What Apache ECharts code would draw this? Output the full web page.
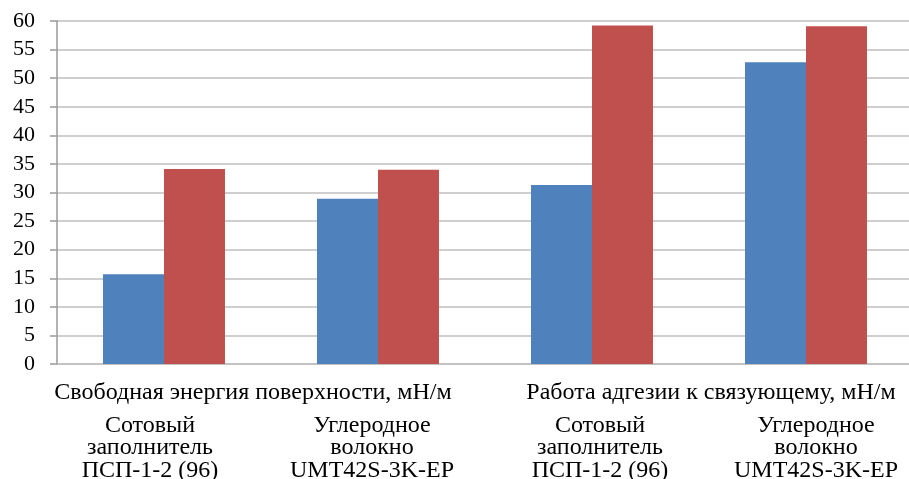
<!DOCTYPE html>
<html>
<head>
<meta charset="utf-8">
<script src="https://cdn.jsdelivr.net/npm/echarts@6/dist/echarts.min.js"></script>
<style>
  html, body { margin: 0; padding: 0; background: #fff; }
  #chart { width: 909px; height: 479px; }
</style>
</head>
<body>
<div id="chart"></div>
<script>
  // inner level categories (closest to bars)
  const categories = [
    'Сотовый\nзаполнитель\nПСП-1-2 (96)',
    'Углеродное\nволокно\nUMT42S-3K-EP',
    'Сотовый\nзаполнитель\nПСП-1-2 (96)',
    'Углеродное\nволокно\nUMT42S-3K-EP',
  ];
  // outer level groups
  const groups = ['Свободная энергия поверхности, мН/м', 'Работа адгезии к связующему, мН/м'];
  const blueValues = [15.7, 28.9, 31.3, 52.8];
  const redValues = [34.1, 34.0, 59.2, 59.1];

  const font = "'Liberation Serif', 'Times New Roman', serif";

  // excel puts the labels a bit off-centre, nudge them with padding
  function nudge(text, dx) {
    const pad = dx < 0 ? [0, -2 * dx, 0, 0] : [0, 0, 0, 2 * dx];
    return { value: text, textStyle: { padding: pad } };
  }
  const innerShift = [-14, -6, 8, 10];
  const groupShift = [-18, 12];

  const chart = echarts.init(document.getElementById('chart'));
  const option = {
    animation: false,
    grid: {
      left: 57,
      top: 21,
      width: 856, // plot runs off the right edge like the original
      height: 343,
      containLabel: false,
      outerBoundsMode: 'none',
    },
    xAxis: [
      {
        type: 'category',
        data: categories.map((c, i) => nudge(c, innerShift[i])),
        position: 'bottom',
        axisLine: { show: true, lineStyle: { color: '#bfbfbf', width: 1.5 } },
        axisTick: { show: false },
        axisLabel: {
          margin: 50,
          fontFamily: font,
          fontSize: 24,
          lineHeight: 22.5,
          color: '#000',
          interval: 0,
        },
      },
      {
        type: 'category',
        data: groups.map((g, i) => nudge(g, groupShift[i])),
        position: 'bottom',
        axisLine: { show: false },
        axisTick: { show: false },
        axisLabel: {
          margin: 17,
          fontFamily: font,
          fontSize: 24,
          color: '#000',
          interval: 0,
        },
      },
    ],
    yAxis: {
      type: 'value',
      min: 0,
      max: 60,
      interval: 5,
      axisLine: { show: true, lineStyle: { color: '#9a9a9a', width: 1.5 } },
      axisTick: { show: true, length: 7, lineStyle: { color: '#9a9a9a', width: 1.5 } },
      axisLabel: {
        margin: 22,
        fontFamily: font,
        fontSize: 22,
        color: '#000',
      },
      splitLine: { lineStyle: { color: '#bfbfbf', width: 1.5 } },
    },
    series: [
      {
        name: 'blue',
        type: 'bar',
        data: blueValues,
        barGap: '0%',
        barCategoryGap: '43%',
        itemStyle: { color: '#4f81bd' },
      },
      {
        name: 'red',
        type: 'bar',
        data: redValues,
        barGap: '0%',
        barCategoryGap: '43%',
        itemStyle: { color: '#c0504d' },
      },
    ],
  };
  chart.setOption(option);
</script>
</body>
</html>
